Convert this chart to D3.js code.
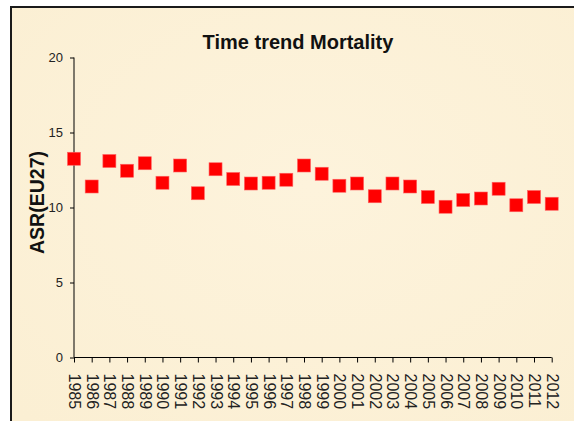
<!DOCTYPE html>
<html><head><meta charset="utf-8">
<script src="https://cdn.jsdelivr.net/npm/d3@7"></script>
<style>html,body{margin:0;padding:0;background:#fff;}svg{display:block;}</style>
</head><body>
<svg id="c" width="574" height="421"></svg>
<script>
const years = [1985,1986,1987,1988,1989,1990,1991,1992,1993,1994,1995,1996,1997,1998,1999,2000,2001,2002,2003,2004,2005,2006,2007,2008,2009,2010,2011,2012];
const asr = [13.25,11.4,13.1,12.45,12.95,11.65,12.8,10.95,12.55,11.9,11.6,11.65,11.85,12.8,12.25,11.45,11.6,10.75,11.6,11.4,10.7,10.05,10.5,10.6,11.25,10.15,10.7,10.25];
const yTicks = [0,5,10,15,20];
const title = "Time trend Mortality";
const yTitle = "ASR(EU27)";

const svg = d3.select("#c");
const defs = svg.append("defs");
const g1 = defs.append("radialGradient").attr("id","bg").attr("cx","50%").attr("cy","40%").attr("r","70%");
g1.append("stop").attr("offset","0%").attr("stop-color","#fdf3dc");
g1.append("stop").attr("offset","100%").attr("stop-color","#fbefd3");

svg.append("rect").attr("x",11).attr("y",7).attr("width",600).attr("height",450)
  .attr("fill","url(#bg)").attr("stroke","#1a1a1a").attr("stroke-width",2);

const x = d3.scalePoint().domain(years).range([74, 551.7]);
const y = d3.scaleLinear().domain([0,20]).range([357.5, 57.5]);

const yAxis = svg.append("g").attr("transform","translate(74,0)")
  .call(d3.axisLeft(y).tickValues(yTicks).tickSize(4).tickPadding(7).tickFormat(d3.format("d")));
yAxis.select(".domain").attr("d","M0,"+y(20)+"V"+y(0)).attr("stroke","#000");
yAxis.selectAll("text").attr("font-family","Arial, Liberation Sans, sans-serif").attr("font-size",13).attr("fill","#222");

const xAxis = svg.append("g").attr("transform","translate(0,"+y(0)+")")
  .call(d3.axisBottom(x).tickSize(5).tickFormat(""));
xAxis.select(".domain").attr("d","M"+x(years[0])+",0H"+x(years[years.length-1])).attr("stroke","#000");
xAxis.selectAll(".tick text").remove();
xAxis.selectAll(".tick").append("text")
  .attr("transform","translate(0,16) rotate(90)")
  .attr("x",0).attr("y",0)
  .attr("text-anchor","start").attr("dominant-baseline","central")
  .attr("font-family","Arial, Liberation Sans, sans-serif").attr("font-size",16).attr("fill","#222")
  .text(d=>d);

svg.append("text").attr("x",298).attr("y",49).attr("text-anchor","middle")
  .attr("font-family","Arial, Liberation Sans, sans-serif").attr("font-weight","bold").attr("font-size",20)
  .attr("fill","#111").text(title);

svg.append("text").attr("transform","translate(44,202.5) rotate(-90)").attr("text-anchor","middle")
  .attr("font-family","Arial, Liberation Sans, sans-serif").attr("font-weight","bold").attr("font-size",19.5)
  .attr("fill","#111").text(yTitle);

const s = 13;
svg.append("g").selectAll("rect").data(years).join("rect")
  .attr("x",(d)=>x(d)-s/2).attr("y",(d,i)=>y(asr[i])-s/2)
  .attr("width",s).attr("height",s).attr("fill","#ff0000").attr("stroke","#ff6060").attr("stroke-width",0.6);
</script>
</body></html>
